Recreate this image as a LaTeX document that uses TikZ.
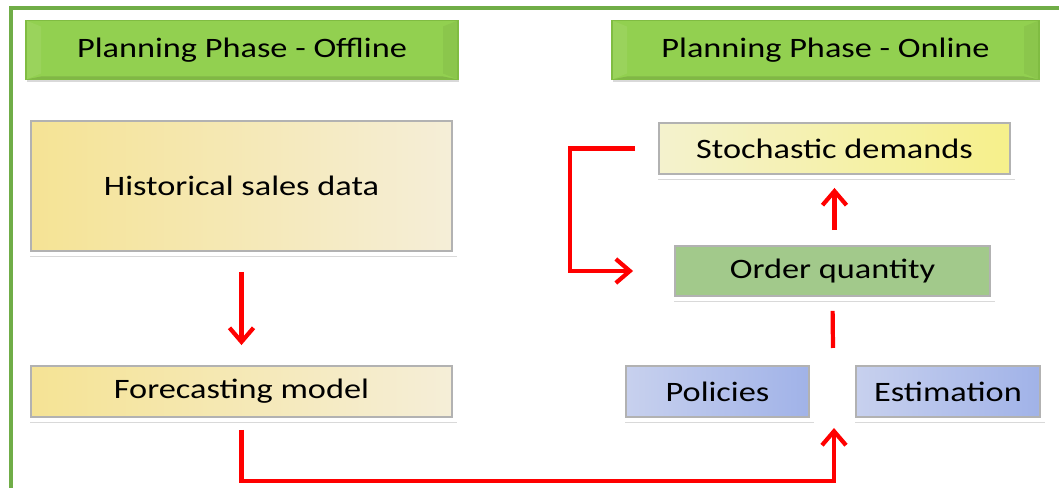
\documentclass[tikz,border=0pt]{standalone}
\usepackage{fontspec}
\setmainfont{Carlito}[FakeStretch=1.22]
\usepackage{tikz}
\usetikzlibrary{arrows.meta,positioning,shadows}
\definecolor{framegreen}{HTML}{70AD47}
\definecolor{headgreen}{HTML}{92D050}
\definecolor{headedge}{HTML}{80BC42}
\definecolor{sandleft}{HTML}{F5E394}
\definecolor{sandright}{HTML}{F5EED8}
\definecolor{lemonleft}{HTML}{F4F2CE}
\definecolor{lemonright}{HTML}{F6F08A}
\definecolor{ordergreen}{HTML}{A2C98B}
\definecolor{bluedark}{HTML}{A0B2E8}
\definecolor{bluelight}{HTML}{C8D1EE}
\definecolor{arrowred}{HTML}{FF0000}
\tikzset{
  txt/.style={font=\fontsize{16}{19}\selectfont,text=black,align=center},
  headbox/.style={txt,draw=headedge,fill=headgreen,line width=0.6pt,
                  minimum height=1.18cm,
                  drop shadow={shadow xshift=0.8pt,shadow yshift=-1.2pt,opacity=0.3},
                  path picture={
                    \fill[headgreen!93!white] (path picture bounding box.north west)
                      -- ++(0.3,-0.12) |- ([shift={(0.3,0.12)}]path picture bounding box.south west)
                      -- (path picture bounding box.south west) -- cycle;
                    \fill[headgreen!95!black] (path picture bounding box.north east)
                      -- ++(-0.3,-0.12) |- ([shift={(-0.3,0.12)}]path picture bounding box.south east)
                      -- (path picture bounding box.south east) -- cycle;
                    \fill[headgreen!88!black] (path picture bounding box.south west)
                      -- ++(0.3,0.06) -- ([shift={(-0.3,0.06)}]path picture bounding box.south east)
                      -- (path picture bounding box.south east) -- cycle;}},
  card/.style={txt,draw=white,line width=2.2pt,minimum height=1.14cm,
               drop shadow={shadow xshift=1pt,shadow yshift=-1.5pt,opacity=0.3},
               path picture={
                 \draw[black!30,line width=0.8pt]
                   ([shift={(1.6pt,1.6pt)}]path picture bounding box.south west) rectangle
                   ([shift={(-1.6pt,-1.6pt)}]path picture bounding box.north east);}},
  sandcard/.style={card,left color=sandleft,right color=sandright},
  lemoncard/.style={card,left color=lemonleft,right color=lemonright},
  ordercard/.style={card,fill=ordergreen},
  bluecard/.style={card,shading=axis,shading angle=45,
                   left color=bluelight,right color=bluedark},
  flowarr/.style={-{Straight Barb[length=2.8mm,width=4.8mm,line width=2.4pt]},
                  draw=arrowred,line width=2.4pt},
  flowline/.style={draw=arrowred,line width=2.4pt},
  frameline/.style={draw=framegreen,line width=2pt}
}

\begin{document}
\begin{tikzpicture}
  \useasboundingbox (0,0) rectangle (21.18,9.76);
  \draw[frameline] (0.22,0) -- (0.22,9.60) -- (21.18,9.60);

  \node[headbox,minimum width=8.64cm] (offhead) at (4.84,8.76) {Planning Phase - Offline};
  \node[headbox,minimum width=8.54cm] (onhead) at (16.51,8.76) {Planning Phase - Online};

  \node[sandcard,minimum width=8.54cm,minimum height=2.72cm] (hist) at (4.83,6.04) {Historical sales data};
  \node[sandcard,minimum width=8.54cm] (fore) at (4.83,1.93) {Forecasting model};

  \node[lemoncard,minimum width=7.14cm] (stoch) at (16.69,6.79) {Stochastic demands};
  \node[ordercard,minimum width=6.42cm,minimum height=1.12cm] (order) at (16.65,4.34) {Order quantity};
  \node[bluecard,minimum width=3.78cm] (pol) at (14.35,1.93) {Policies};
  \node[bluecard,minimum width=3.80cm] (est) at (18.96,1.93) {Estimation};

  \coordinate (loop) at (11.40,6.79);
  \coordinate (split) at (16.66,2.80);
  \coordinate (low) at (16.68,0.14);
  \coordinate (merge) at (16.68,1.20);

  \draw[flowarr,shorten <=0.32cm,shorten >=0.32cm] (hist) -- (fore);
  \draw[flowarr,shorten <=0.38cm,shorten >=0.74cm] (stoch.west) -- (loop) |- (order.west);
  \draw[flowarr,shorten <=0.22cm,shorten >=0.18cm] (order.north -| stoch.south) -- (stoch.south);
  \draw[flowline,shorten <=0.2cm] (order.south) -- (split);
  \draw[flowarr,shorten <=0.16cm] (fore.south) |- (low) -- (merge);
\end{tikzpicture}
\end{document}
